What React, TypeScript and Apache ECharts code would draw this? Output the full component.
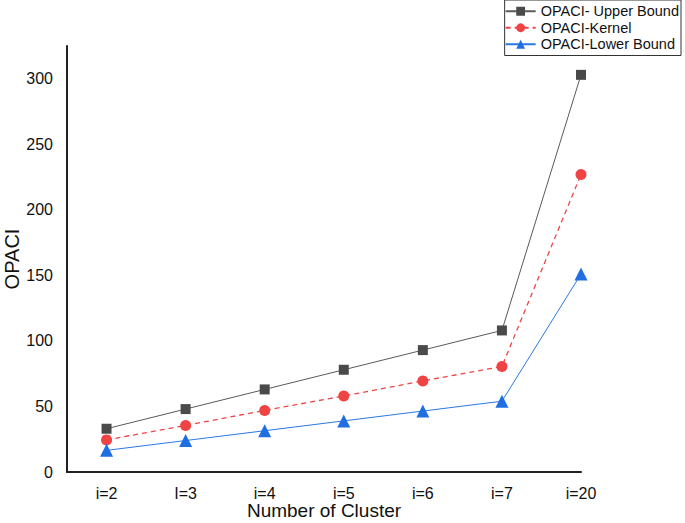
import React, { useEffect, useRef } from "react";
import * as echarts from "echarts";

const categories = ["i=2", "I=3", "i=4", "i=5", "i=6", "i=7", "i=20"];
const upperBound = [33, 48, 63, 78, 93, 108, 303];
const kernel = [24.5, 35.5, 47, 58, 69.5, 80.5, 227];
const lowerBound = [16.5, 24, 31.5, 39, 46.5, 54, 151];
const seriesNames = ["OPACI- Upper Bound", "OPACI-Kernel", "OPACI-Lower Bound"];

const FONT = "Liberation Sans, Arial, sans-serif";

export default function App() {
  const ref = useRef<HTMLDivElement>(null);
  useEffect(() => {
    if (!ref.current) return;
    const chart = echarts.init(ref.current, undefined, { renderer: "svg" });
    const toPts = (arr: number[]) => arr.map((v, i) => [i, v]);
    chart.setOption({
      animation: false,
      backgroundColor: "#fff",
      textStyle: { fontFamily: FONT },
      grid: { left: 67, top: 46, width: 514, height: 426, outerBoundsMode: "none", containLabel: false },
      legend: {
        orient: "vertical",
        right: 4,
        top: 0,
        backgroundColor: "#fff",
        borderColor: "#333",
        borderWidth: 1,
        borderRadius: 0,
        padding: [3, 2, 3, 0],
        itemGap: 0,
        itemWidth: 30,
        itemHeight: 11,
        textStyle: { fontFamily: FONT, fontSize: 14.5, lineHeight: 16.5, color: "#111" },
        data: seriesNames,
      },
      xAxis: {
        type: "value",
        min: -0.5,
        max: 6,
        interval: 0.5,
        name: "Number of Cluster",
        nameLocation: "middle",
        nameGap: 29,
        nameMoveOverlap: false,
        nameTextStyle: { fontFamily: FONT, fontSize: 19, color: "#111" },
        axisLine: { show: true, onZero: false, lineStyle: { color: "#222", width: 2 } },
        axisTick: { show: false },
        splitLine: { show: false },
        axisLabel: {
          fontFamily: FONT,
          fontSize: 16,
          color: "#111",
          margin: 13,
          showMinLabel: false,
          formatter: (v: number) => (Number.isInteger(v) && v >= 0 ? categories[v] : ""),
        },
      },
      yAxis: {
        type: "value",
        min: 0,
        max: 325,
        interval: 50,
        name: "OPACI",
        nameLocation: "middle",
        nameGap: 45,
        nameMoveOverlap: false,
        nameTextStyle: { fontFamily: FONT, fontSize: 20, color: "#111" },
        axisLine: { show: true, onZero: false, lineStyle: { color: "#222", width: 2 } },
        axisTick: { show: false },
        splitLine: { show: false },
        axisLabel: {
          fontFamily: FONT,
          fontSize: 16,
          color: "#111",
          margin: 14,
          showMaxLabel: false,
        },
      },
      series: [
        {
          name: seriesNames[0],
          type: "line",
          data: toPts(upperBound),
          symbol: "rect",
          symbolSize: 10,
          itemStyle: { color: "#4a4a4a" },
          lineStyle: { color: "#5a5a5a", width: 1 },
        },
        {
          name: seriesNames[1],
          type: "line",
          data: toPts(kernel),
          symbol: "circle",
          symbolSize: 11,
          itemStyle: { color: "#f04444" },
          lineStyle: { color: "#f04444", width: 1.3, type: [5, 4] },
        },
        {
          name: seriesNames[2],
          type: "line",
          data: toPts(lowerBound),
          symbol: "triangle",
          symbolSize: 13,
          itemStyle: { color: "#1f6fe3" },
          lineStyle: { color: "#2a78e6", width: 1 },
        },
      ],
    });
    return () => chart.dispose();
  }, []);
  return <div ref={ref} style={{ width: 685, height: 523, position: "absolute", left: 0, top: 0 }} />;
}
